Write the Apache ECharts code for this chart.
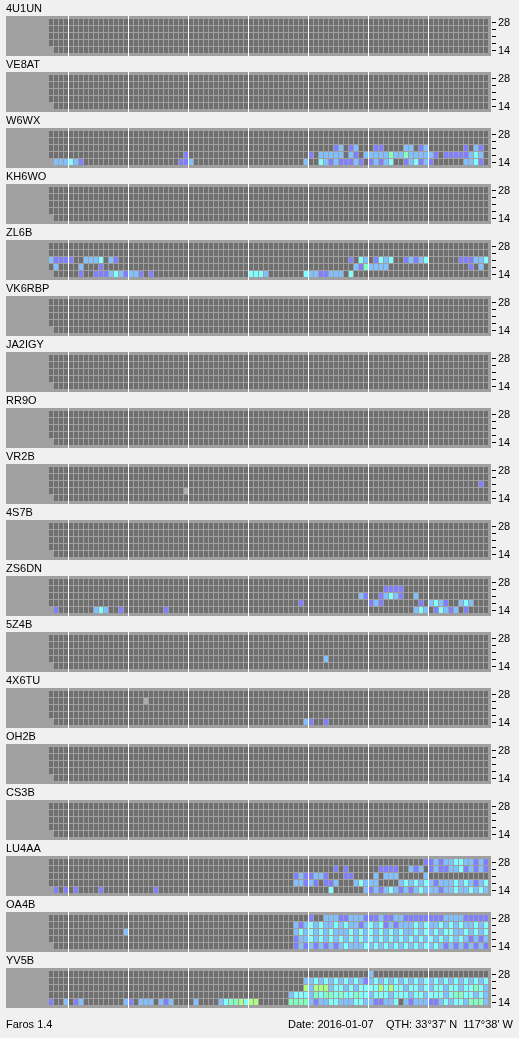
<!DOCTYPE html>
<html><head><meta charset="utf-8">
<script src="https://cdn.jsdelivr.net/npm/echarts@6/dist/echarts.min.js"></script>
<style>html,body{margin:0;padding:0;background:#f0f0f0}#c{width:519px;height:1038px}</style>
</head><body><div id="c"></div>
<script>
// ---- data ----
const stations = ['4U1UN','VE8AT','W6WX','KH6WO','ZL6B','VK6RBP','JA2IGY','RR9O','VR2B','4S7B','ZS6DN','5Z4B','4X6TU','OH2B','CS3B','LU4AA','OA4B','YV5B'];
const bands = ['14','18','21','24','28'];          // MHz, bottom -> top
const firstCol = [9, 8, 8, 8, 8];                   // first monitored slot per band
const nCols = 96;                                   // time slots
const hourCols = [12, 24, 36, 48, 60, 72, 84];      // hour boundaries
// segments: [bandIndex, startSlot, levels]  0 = no signal, 1..5 = SNR level, g = grey
const sig_4U1UN = [];
const sig_VE8AT = [];
const sig_W6WX = [
  [0, 9, '222321'], [0, 34, '112'], [1, 35, '1'],
  [2, 65, '120120001100002201200000001021'],
  [1, 60, '10222220210222224224222221011111232'],
  [0, 59, '200321211121012123001231210000002231']
];
const sig_KH6WO = [];
const sig_ZL6B = [
  [2, 8, '21111002223021'], [2, 68, '1032013230012123000000111223'],
  [1, 9, '200002000100'], [1, 69, '2142222'], [1, 92, '102'],
  [0, 14, '100111232122101'], [0, 48, '3332'], [0, 59, '3221122203']
];
const sig_VK6RBP = [];
const sig_JA2IGY = [];
const sig_RR9O = [];
const sig_VR2B = [[1, 35, 'g'], [2, 94, '1']];
const sig_4S7B = [];
const sig_ZS6DN = [
  [3, 75, '1111'], [2, 70, '2100123210020'], [1, 58, '1'], [1, 72, '121'], [1, 82, '102321002320'],
  [0, 9, '1'], [0, 17, '232'], [0, 22, '1'], [0, 31, '1'], [0, 81, '232013212'], [0, 91, '1']
];
const sig_5Z4B = [[1, 63, '2']];
const sig_4X6TU = [[3, 27, 'g'], [0, 59, '21'], [0, 63, '1']];
const sig_OH2B = [];
const sig_CS3B = [];
const sig_LU4AA = [
  [4, 83, '1121223322121'],
  [3, 65, '101'], [3, 74, '1111'], [3, 80, '2120121122312121'],
  [2, 57, '1211221'], [2, 67, '11'], [2, 73, '20222'], [2, 83, '2'],
  [1, 57, '2212101120'], [1, 69, '23222'], [1, 78, '232323212223232123'],
  [0, 9, '1'], [0, 11, '1'], [0, 13, '1'], [0, 18, '1'], [0, 29, '1'],
  [0, 64, '3'], [0, 71, '2121232121232221223223232']
];
const sig_OA4B = [
  [2, 23, '2'],
  [4, 60, '100222112221112112211111111222211111'],
  [3, 57, '212323223232212323121222323223232322323'],
  [2, 57, '232323232223232323232322323232332232323'],
  [1, 57, '122323232323232323232323232323232321212'],
  [0, 57, '121212121232223232323232323232121212121']
];
const sig_YV5B = [
  [4, 72, '2'],
  [3, 59, '2232323232' + '3212323232' + '3232323232' + '3232323'],
  [2, 59, '5255523323' + '2333353533' + '2332323323' + '3233432'],
  [1, 55, '0233324344' + '3433433233' + '3233323323' + '33234433232'],
  [0, 8, '1002012000' + '0000021022' + '2021200002' + '0000234453' + '5500000044' +
         '4421223322' + '2332211223' + '0212221123' + '23324442']
];
const footerLeft = 'Faros 1.4';
const footerRight = "Date: 2016-01-07    QTH: 33°37' N  117°38' W";

const signalsByStation = [sig_4U1UN, sig_VE8AT, sig_W6WX, sig_KH6WO, sig_ZL6B, sig_VK6RBP, sig_JA2IGY, sig_RR9O,
  sig_VR2B, sig_4S7B, sig_ZS6DN, sig_5Z4B, sig_4X6TU, sig_OH2B, sig_CS3B, sig_LU4AA, sig_OA4B, sig_YV5B];

// ---- styles ----
const FONT = '"Liberation Sans", Arial, sans-serif';
const levelColor = { '-1': '#ababab', 0: '#6f6f6f', 1: '#8080ff', 2: '#80c0ff', 3: '#80ffff', 4: '#80ffc0', 5: '#a8ff80' };
const PANEL_STEP = 56, BOX_TOP = 16, BOX_H = 40, BOX_LEFT = 6, BOX_W = 485, ROW_PAD_TOP = 3, ROW_H = 7;
const TICK_LEFT = 492;
const N = stations.length;

function buildData(segs) {
  const cells = bands.map((b, bi) => {
    const row = new Array(nCols).fill(null);
    for (let c = firstCol[bi]; c < nCols; c++) row[c] = 0;
    return row;
  });
  segs.forEach(([b, s, str]) => {
    for (let j = 0; j < str.length && s + j < nCols; j++) {
      const ch = str[j];
      cells[b][s + j] = ch === 'g' ? -1 : +ch;
    }
  });
  const out = [];
  cells.forEach((row, bi) => row.forEach((v, c) => { if (v !== null) out.push([c, bi, v]); }));
  return out;
}

const grids = [], xAxes = [], yAxes = [], series = [], graphics = [];
stations.forEach((name, k) => {
  const top = BOX_TOP + PANEL_STEP * k;
  grids.push({ left: BOX_LEFT, top: top, width: BOX_W, height: BOX_H, show: true, backgroundColor: '#a0a0a0', borderWidth: 0 });
  xAxes.push({ type: 'value', gridIndex: k, min: -0.4, max: nCols + 0.6, show: false });
  yAxes.push({ type: 'value', gridIndex: k, min: -2 / 7, max: 5 + 3 / 7, show: false });
  series.push({
    type: 'custom', xAxisIndex: k, yAxisIndex: k, silent: true, animation: false,
    data: buildData(signalsByStation[k]),
    renderItem: (params, api) => {
      const c = api.value(0), b = api.value(1), l = api.value(2);
      const p = api.coord([c, b + 1]);
      const s = api.size([1, 1]);
      return { type: 'rect', shape: { x: Math.round(p[0]) + 1, y: Math.round(p[1]), width: Math.round(s[0]) - 1, height: Math.round(s[1]) - 1 },
        style: { fill: levelColor[l] } };
    },
    markLine: { silent: true, symbol: ['none', 'none'], animation: false, label: { show: false },
      lineStyle: { color: '#ffffff', width: 1, type: 'solid', opacity: 1 },
      data: hourCols.map(v => ({ xAxis: v + 0.1 })) }
  });
  graphics.push({ type: 'text', x: 6, y: 8.5 + PANEL_STEP * k, style: { text: name, font: '11px ' + FONT, fill: '#000', verticalAlign: 'middle' } });
});
// narrow grids right of each box carrying the band axis (ticks at row centres, labels 14 / 28)
stations.forEach((name, k) => {
  const top = BOX_TOP + PANEL_STEP * k + ROW_PAD_TOP;
  grids.push({ left: TICK_LEFT, top: top, width: 1, height: ROW_H * bands.length, show: false });
  xAxes.push({ type: 'value', gridIndex: N + k, min: 0, max: 1, show: false });
  yAxes.push({
    type: 'category', gridIndex: N + k, data: bands, position: 'right', offset: 0,
    axisLine: { show: false }, splitLine: { show: false },
    axisTick: { show: true, alignWithLabel: true, interval: 0, length: 4, lineStyle: { color: '#000', width: 1 } },
    axisLabel: { show: true, margin: 5, interval: (i) => i === 0 || i === bands.length - 1,
      color: '#000', fontSize: 11, fontFamily: FONT }
  });
});
graphics.push({ type: 'text', x: 6, y: 1025, style: { text: footerLeft, font: '11px ' + FONT, fill: '#000', verticalAlign: 'middle' } });
graphics.push({ type: 'text', x: 513, y: 1025, style: { text: footerRight, font: '11px ' + FONT, fill: '#000', verticalAlign: 'middle', align: 'right' } });

const chart = echarts.init(document.getElementById('c'), null, { renderer: 'canvas' });
chart.setOption({
  backgroundColor: '#f0f0f0', animation: false,
  grid: grids, xAxis: xAxes, yAxis: yAxes, series: series, graphic: graphics
});
</script></body></html>
